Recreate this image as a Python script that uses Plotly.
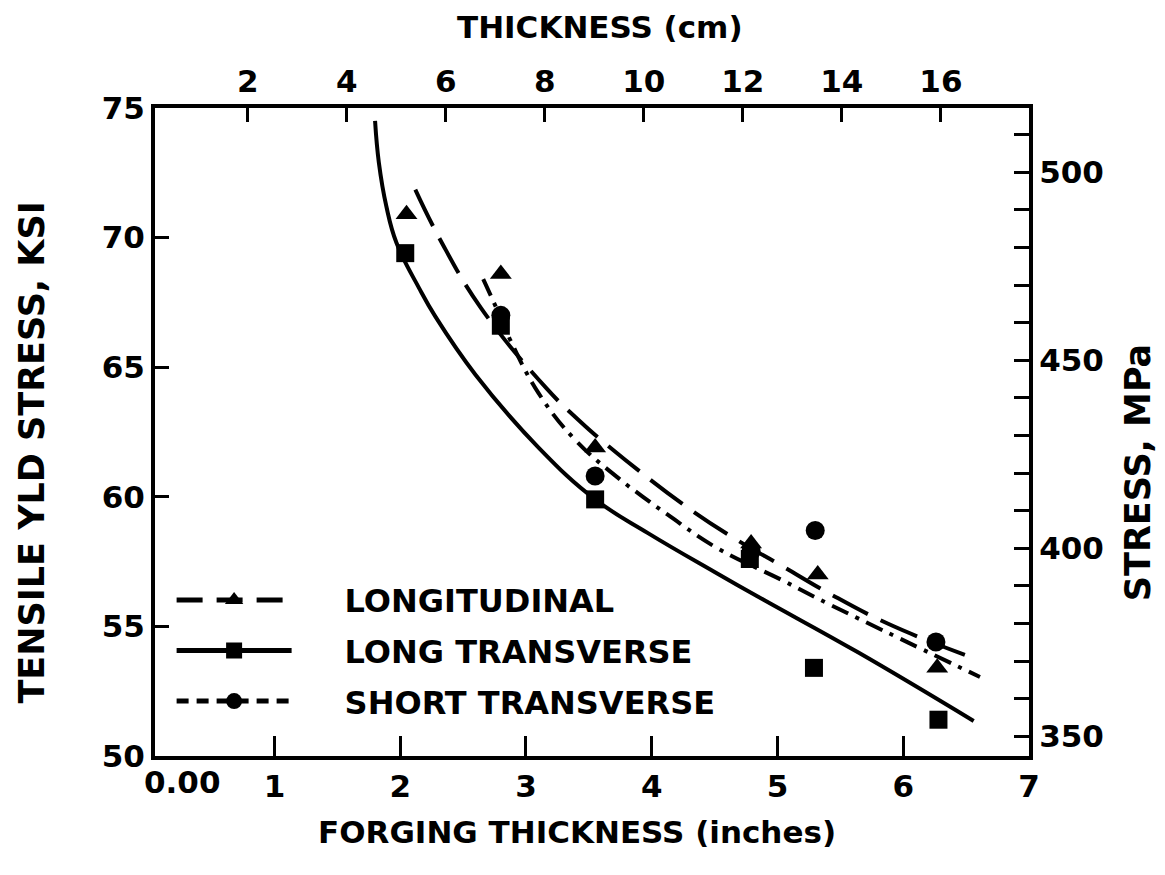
import plotly.graph_objects as go

# ---- data ----
LONG_X = [2.05, 2.80, 3.55, 4.79, 5.32, 6.27]
LONG_Y = [70.9, 68.6, 61.9, 58.2, 57.0, 53.4]
LT_X = [2.04, 2.80, 3.55, 4.78, 5.29, 6.28]
LT_Y = [69.4, 66.6, 59.9, 57.6, 53.4, 51.4]
ST_X = [2.80, 3.55, 4.79, 5.30, 6.26]
ST_Y = [67.0, 60.8, 57.9, 58.7, 54.4]

# fitted curves
LONG_CX = [2.12, 2.32, 2.64, 3.16, 3.42, 3.62, 4.28, 4.69, 5.03, 5.42, 5.88, 6.49]
LONG_CY = [71.85, 69.9, 67.3, 64.2, 62.95, 62.1, 59.6, 58.3, 57.35, 56.25, 55.1, 53.9]
LT_CX = [1.80, 1.83, 1.89, 1.97, 2.15, 2.28, 2.60, 3.10, 3.55, 3.97, 4.50, 4.90, 5.64, 6.56]
LT_CY = [74.5, 72.9, 71.2, 69.8, 68.05, 66.95, 64.7, 61.9, 59.9, 58.6, 57.1, 56.0, 54.0, 51.35]
ST_CX = [2.66, 2.80, 2.88, 3.10, 3.39, 3.74, 3.93, 4.13, 4.51, 5.03, 5.33, 6.61]
ST_CY = [68.4, 66.9, 66.0, 64.0, 62.2, 60.7, 60.0, 59.3, 58.05, 56.8, 56.05, 53.05]

X_TICKS = [1, 2, 3, 4, 5, 6, 7]
CM_TICKS = [2, 4, 6, 8, 10, 12, 14, 16]
KSI_TICKS = [50, 55, 60, 65, 70, 75]
MPA_TICKS = list(range(350, 520, 10))
MPA_LABELS = [350, 400, 450, 500]

NAMES = ["LONGITUDINAL", "LONG TRANSVERSE", "SHORT TRANSVERSE"]

X_RANGE = [0.05, 7.0]
Y_RANGE = [50, 75]
IN2CM = 2.54
KSI2MPA = 6.894757

FONT = "DejaVu Sans"
BLACK = "black"

fig = go.Figure()

styles = [
    dict(cx=LONG_CX, cy=LONG_CY, px=LONG_X, py=LONG_Y, dash="40px,14px", ldash="26px,14px",
         sym="triangle-up", size=19),
    dict(cx=LT_CX, cy=LT_CY, px=LT_X, py=LT_Y, dash="solid", ldash="solid", sym="square", size=18),
    dict(cx=ST_CX, cy=ST_CY, px=ST_X, py=ST_Y, dash="18px,8px,4px,8px", ldash="12px,8px",
         sym="circle", size=19),
]

for i, (name, s) in enumerate(zip(NAMES, styles)):
    fig.add_trace(go.Scatter(x=s["cx"], y=s["cy"], mode="lines",
                             line=dict(color=BLACK, width=4, dash=s["dash"], shape="spline", smoothing=1.2),
                             showlegend=False, hoverinfo="skip"))
    fig.add_trace(go.Scatter(x=s["px"], y=s["py"], mode="markers",
                             marker=dict(symbol=s["sym"], size=s["size"], color=BLACK),
                             showlegend=False))
    fig.add_trace(go.Scatter(x=[None], y=[None], mode="lines+markers", name="\u2003\u2002" + name,
                             legendgroup=f"g{i}",
                             line=dict(color=BLACK, width=5, dash=s["ldash"]),
                             marker=dict(symbol=s["sym"], size=s["size"] + 2, color=BLACK)))

# secondary axes carriers (invisible)
fig.add_trace(go.Scatter(x=[None], y=[None], xaxis="x2", yaxis="y", showlegend=False))
fig.add_trace(go.Scatter(x=[None], y=[None], xaxis="x", yaxis="y2", showlegend=False))

tickfont = dict(family=FONT, size=31, color=BLACK, weight="bold")

fig.update_layout(
    width=1165, height=875,
    margin=dict(l=147, r=144, t=100, b=127),
    paper_bgcolor="white", plot_bgcolor="white",
    font=dict(family=FONT, color=BLACK),
    xaxis=dict(range=X_RANGE, tickvals=X_TICKS, ticktext=[str(v) for v in X_TICKS],
               ticks="inside", ticklen=20, tickwidth=3, tickcolor=BLACK,
               showline=True, linewidth=4, linecolor=BLACK, showgrid=False, zeroline=False,
               tickfont=tickfont),
    xaxis2=dict(range=[X_RANGE[0] * IN2CM, X_RANGE[1] * IN2CM], overlaying="x", side="top",
                tickvals=CM_TICKS, ticktext=[str(v) for v in CM_TICKS],
                ticks="inside", ticklen=14, tickwidth=3, tickcolor=BLACK,
                showline=True, linewidth=4, linecolor=BLACK, showgrid=False, zeroline=False,
                tickfont=tickfont),
    yaxis=dict(range=Y_RANGE, tickvals=KSI_TICKS, ticktext=[str(v) for v in KSI_TICKS],
               ticks="inside", ticklen=14, tickwidth=3, tickcolor=BLACK,
               showline=True, linewidth=4, linecolor=BLACK, showgrid=False, zeroline=False,
               tickfont=tickfont),
    yaxis2=dict(range=[Y_RANGE[0] * KSI2MPA, Y_RANGE[1] * KSI2MPA], overlaying="y", side="right",
                tickvals=MPA_TICKS, ticktext=[str(v) if v in MPA_LABELS else "" for v in MPA_TICKS],
                ticks="inside", ticklen=15, tickwidth=3, tickcolor=BLACK,
                showline=True, linewidth=4, linecolor=BLACK, showgrid=False, zeroline=False,
                tickfont=tickfont),
    legend=dict(x=0.019, y=0.283, xanchor="left", yanchor="top", bgcolor="rgba(0,0,0,0)",
                font=dict(family=FONT, size=32, color=BLACK, weight="bold"),
                itemwidth=115, traceorder="grouped", tracegroupgap=6),
    showlegend=True,
)

titlefont = dict(family=FONT, size=31, color=BLACK, weight="bold")
sidefont = dict(family=FONT, size=35, color=BLACK, weight="bold")
fig.add_annotation(text="FORGING THICKNESS (inches)", xref="paper", yref="paper",
                   x=0.483, y=-0.118, xanchor="center", yanchor="middle", showarrow=False, font=titlefont)
fig.add_annotation(text="THICKNESS (cm)", xref="paper", yref="paper",
                   x=0.509, y=1.125, xanchor="center", yanchor="middle", showarrow=False, font=titlefont)
fig.add_annotation(text="TENSILE YLD STRESS, KSI", xref="paper", yref="paper",
                   x=-0.141, y=0.468, textangle=-90, showarrow=False, font=sidefont,
                   xanchor="center", yanchor="middle")
fig.add_annotation(text="STRESS, MPa", xref="paper", yref="paper",
                   x=1.124, y=0.437, textangle=-90, showarrow=False, font=sidefont,
                   xanchor="center", yanchor="middle")
fig.add_annotation(text="0.00", xref="paper", yref="paper",
                   x=0.032, y=-0.04, xanchor="center", yanchor="middle", showarrow=False,
                   font=tickfont)

fig.write_html("out.html")
